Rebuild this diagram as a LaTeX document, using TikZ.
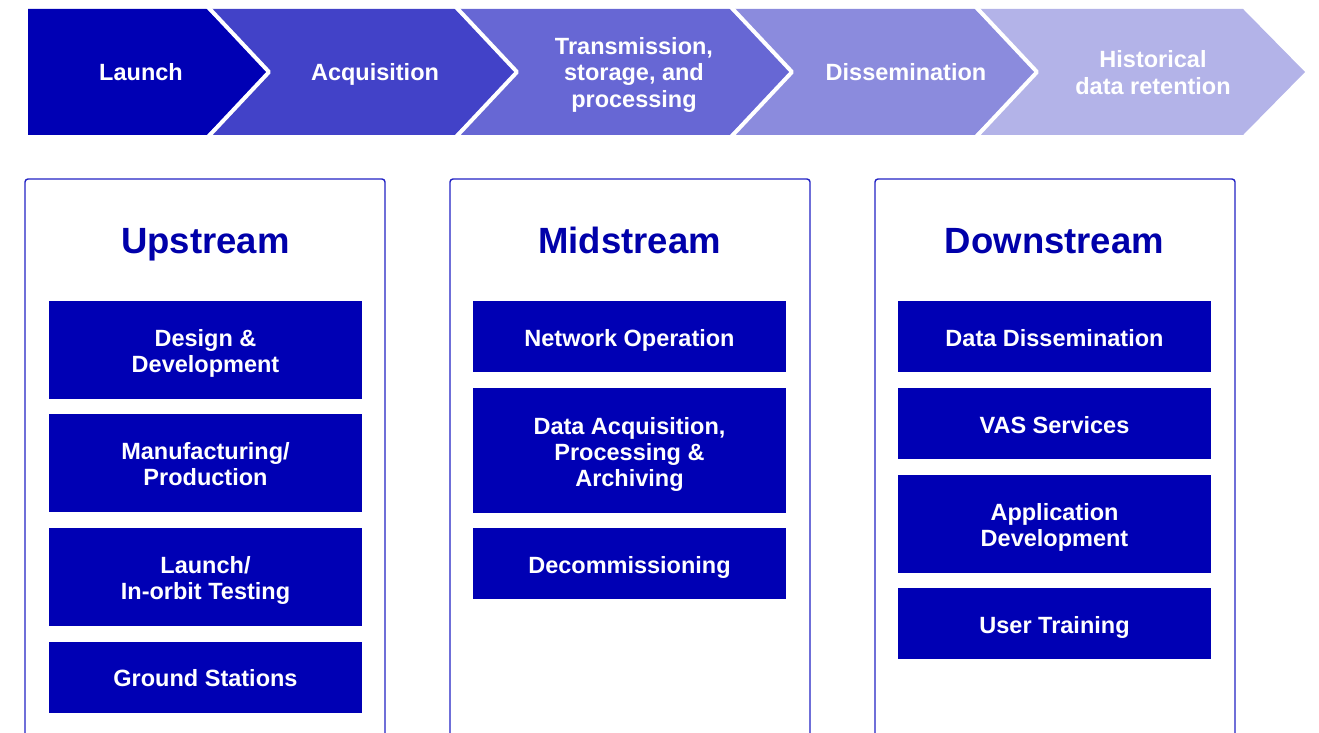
\documentclass[tikz,border=0pt]{standalone}
\usepackage{fontspec}
\setmainfont{Liberation Sans}
\definecolor{boxblue}{HTML}{0000B4}
\definecolor{titleblue}{HTML}{0000AA}
\definecolor{edgeblue}{HTML}{2222C4}
\definecolor{chevA}{HTML}{0000B4}
\definecolor{chevB}{HTML}{4242C8}
\definecolor{chevC}{HTML}{6767D4}
\definecolor{chevD}{HTML}{8B8BDD}
\definecolor{chevE}{HTML}{B3B3E8}
\begin{document}
\begin{tikzpicture}[x=1pt,y=-1pt,
  chevlabel/.style={text=white,font=\fontsize{23.5}{26.5}\selectfont\bfseries,align=center,inner sep=0,anchor=base},
  sep/.style={draw=white,line width=4pt,line join=round},
  panel/.style={draw=edgeblue,line width=1.4pt,rounded corners=3pt,fill=white},
  paneltitle/.style={text=titleblue,font=\fontsize{36.5}{40}\selectfont\bfseries,inner sep=0,anchor=base},
  item/.style={fill=boxblue,inner sep=0,minimum width=313pt},
  itemtext/.style={text=white,font=\fontsize{23.5}{26}\selectfont\bfseries,align=center,inner sep=0,anchor=base}]
\useasboundingbox (0,0) rectangle (1319,733);
\clip (0,0) rectangle (1319,733);

% value-chain chevrons
\fill[chevA] (28,9) -- (207,9) -- (269,72) -- (207,135) -- (28,135) -- cycle;
\fill[chevB] (207,9) -- (455,9) -- (517,72) -- (455,135) -- (207,135) -- (269,72) -- cycle;
\fill[chevC] (455,9) -- (730,9) -- (792,72) -- (730,135) -- (455,135) -- (517,72) -- cycle;
\fill[chevD] (730,9) -- (975,9) -- (1037,72) -- (975,135) -- (730,135) -- (792,72) -- cycle;
\fill[chevE] (975,9) -- (1243,9) -- (1305,72) -- (1243,135) -- (975,135) -- (1037,72) -- cycle;
\draw[sep] (207,6) -- (269,72) -- (207,138);
\draw[sep] (455,6) -- (517,72) -- (455,138);
\draw[sep] (730,6) -- (792,72) -- (730,138);
\draw[sep] (975,6) -- (1037,72) -- (975,138);

% chevron captions (placed by the baseline of their last line)
\node[chevlabel] (c1) at (141,80.4) {Launch};
\node[chevlabel] (c2) at (375,80.4) {Acquisition};
\node[chevlabel] (c3) at (634,107.4) {Transmission,\\storage, and\\processing};
\node[chevlabel] (c4) at (906,80.4) {Dissemination};
\node[chevlabel] (c5) at (1153,94.2) {Historical\\data retention};

% stream panels
\draw[panel] (25,179) rectangle (385,760);
\draw[panel] (450,179) rectangle (810,760);
\draw[panel] (875,179) rectangle (1235,760);

\node[paneltitle] (up) at (205.5,253) {Upstream};
\node[paneltitle] (mid) at (629.5,253) {Midstream};
\node[paneltitle] (down) at (1054.5,253) {Downstream};

% upstream activities
\node[item,minimum height=98pt] (u1) at (205.5,350) {};
\node[item,minimum height=98pt] (u2) at (205.5,463) {};
\node[item,minimum height=98pt] (u3) at (205.5,577) {};
\node[item,minimum height=71pt] (u4) at (205.5,677.5) {};
\node[itemtext] (u1t) at (205.5,372.4) {Design \&\\Development};
\node[itemtext] (u2t) at (205.5,485.4) {Manufacturing/\\Production};
\node[itemtext] (u3t) at (205.5,599.4) {Launch/\\In-orbit Testing};
\node[itemtext] (u4t) at (205.5,686.4) {Ground Stations};

% midstream activities
\node[item,minimum height=71pt] (m1) at (629.5,336.5) {};
\node[item,minimum height=125pt] (m2) at (629.5,450.5) {};
\node[item,minimum height=71pt] (m3) at (629.5,563.5) {};
\node[itemtext] (m1t) at (629.5,346.4) {Network Operation};
\node[itemtext] (m2t) at (629.5,486) {Data Acquisition,\\Processing \&\\Archiving};
\node[itemtext] (m3t) at (629.5,573.4) {Decommissioning};

% downstream activities
\node[item,minimum height=71pt] (d1) at (1054.5,336.5) {};
\node[item,minimum height=71pt] (d2) at (1054.5,423.5) {};
\node[item,minimum height=98pt] (d3) at (1054.5,524) {};
\node[item,minimum height=71pt] (d4) at (1054.5,623.5) {};
\node[itemtext] (d1t) at (1054.5,346.4) {Data Dissemination};
\node[itemtext] (d2t) at (1054.5,433.4) {VAS Services};
\node[itemtext] (d3t) at (1054.5,546.4) {Application\\Development};
\node[itemtext] (d4t) at (1054.5,633.4) {User Training};
\end{tikzpicture}
\end{document}
